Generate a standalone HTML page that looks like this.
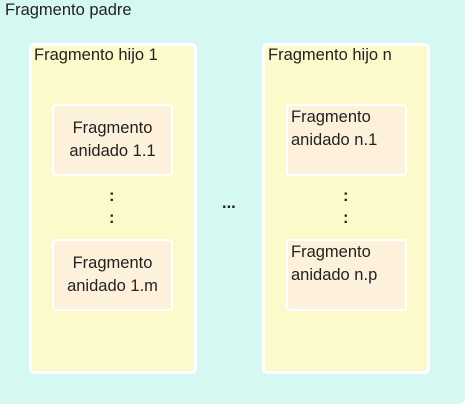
<!DOCTYPE html>
<html><head><style>
body{margin:0;width:465px;height:405px;overflow:hidden;background:#fff;font-family:"Liberation Sans",sans-serif;color:#222;}
.abs{position:absolute;box-sizing:border-box;}
.outer{left:0;top:0;width:465px;height:404px;background:#d6f8f2;border-radius:0 0 6px 0;}
.child{background:#fcfacb;border:3px solid #fff;border-radius:5px;width:168px;height:331px;top:43px;}
.inner{background:#fdf1db;border:2px solid #fff;border-radius:4px;width:121px;height:72px;font-size:16.5px;line-height:23px;}
.t{position:absolute;font-size:16.5px;white-space:nowrap;}
</style></head><body>
<div class="abs outer"></div>
<div class="t" style="left:5px;top:1px">Fragmento padre</div>
<div class="abs child" style="left:29px"></div>
<div class="abs child" style="left:262px"></div>
<div class="t" style="left:34px;top:46px">Fragmento hijo 1</div>
<div class="t" style="left:268px;top:46px">Fragmento hijo n</div>
<div class="abs inner" style="left:52px;top:104px;text-align:center;padding-top:11px">Fragmento<br>anidado 1.1</div>
<div class="abs inner" style="left:52px;top:239px;text-align:center;padding-top:11px">Fragmento<br>anidado 1.m</div>
<div class="abs inner" style="left:286px;top:104px;padding:0 0 0 3px">Fragmento<br>anidado n.1</div>
<div class="abs inner" style="left:286px;top:239px;padding:0 0 0 3px">Fragmento<br>anidado n.p</div>
<div class="t" style="left:109px;top:187px;font-weight:bold">:</div>
<div class="t" style="left:109px;top:209px;font-weight:bold">:</div>
<div class="t" style="left:343px;top:187px;font-weight:bold">:</div>
<div class="t" style="left:343px;top:209px;font-weight:bold">:</div>
<div class="t" style="left:222px;top:194px;font-weight:bold">...</div>
</body></html>
